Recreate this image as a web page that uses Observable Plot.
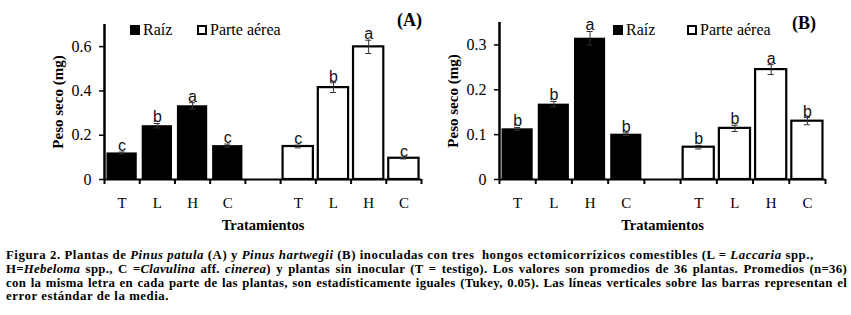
<!DOCTYPE html>
<html>
<head>
<meta charset="utf-8">
<script src="https://cdn.jsdelivr.net/npm/d3@7"></script>
<script src="https://cdn.jsdelivr.net/npm/@observablehq/plot@0.6"></script>
<style>
  html, body { margin: 0; padding: 0; background: #fff; color: #000; }
  #wrap { position: relative; width: 851px; height: 315px; overflow: hidden; }
  .panel { position: absolute; top: 0; }
  .legend { position: absolute; font-family: "Liberation Serif", serif; font-size: 16px; line-height: 16px; white-space: nowrap; }
  .sw { display: inline-block; width: 10px; height: 10px; box-sizing: border-box; vertical-align: 0px; margin-right: 3px; }
  .sw.fill { background: #000; }
  .sw.open { background: #fff; border: 2px solid #000; }
  .tag { position: absolute; font-family: "Liberation Serif", serif; font-weight: bold; font-size: 18px; line-height: 18px; }
  #caption { position: absolute; left: 6px; top: 249px; width: 841px; font-family: "Liberation Serif", serif; font-weight: bold; font-size: 12.8px; letter-spacing: 0.55px; line-height: 13.8px; }
  #caption div { white-space: pre; }
  #caption div.j { white-space: normal; text-align: justify; text-align-last: justify; letter-spacing: 0.3px; }
</style>
</head>
<body>
<div id="wrap">
  <div id="pA" class="panel" style="left:0px"></div>
  <div id="pB" class="panel" style="left:430px"></div>
  <div class="legend" style="left:130px; top:22px"><span class="sw fill"></span>Raíz</div>
  <div class="legend" style="left:197px; top:22px"><span class="sw open"></span>Parte aérea</div>
  <div class="tag" style="left:397px; top:11px">(A)</div>
  <div class="legend" style="left:613px; top:22px"><span class="sw fill"></span>Raíz</div>
  <div class="legend" style="left:687px; top:22px"><span class="sw open"></span>Parte aérea</div>
  <div class="tag" style="left:792px; top:14px">(B)</div>
  <div id="caption">
    <div>Figura 2. Plantas de <i>Pinus patula</i> (A) y <i>Pinus hartwegii</i> (B) inoculadas con tres  hongos ectomicorrízicos comestibles (L = <i>Laccaria</i> spp.,</div>
    <div class="j">H=<i>Hebeloma</i> spp., C =<i>Clavulina</i> aff. <i>cinerea</i>) y plantas sin inocular (T = testigo). Los valores son promedios de 36 plantas. Promedios (n=36)</div>
    <div class="j">con la misma letra en cada parte de las plantas, son estadísticamente iguales (Tukey, 0.05). Las líneas verticales sobre las barras representan el</div>
    <div>error estándar de la media.</div>
  </div>
</div>
<script>
// ---- data ----
const treatments = ["T", "L", "H", "C"];
const xLabels = ["T", "L", "H", "C", "", "T", "L", "H", "C"];

// Panel A: Pinus patula
const raizA = [0.120, 0.243, 0.333, 0.153];
const raizA_se = [0.004, 0.010, 0.014, 0.007];
const raizA_letters = ["c", "b", "a", "c"];
const aereaA = [0.149, 0.415, 0.599, 0.096];
const aereaA_se = [0.006, 0.022, 0.030, 0.003];
const aereaA_letters = ["c", "b", "a", "c"];
const yTicksA = [0, 0.2, 0.4, 0.6];

// Panel B: Pinus hartwegii
const raizB = [0.113, 0.168, 0.315, 0.101];
const raizB_se = [0.003, 0.006, 0.015, 0.003];
const raizB_letters = ["b", "b", "a", "b"];
const aereaB = [0.072, 0.114, 0.245, 0.130];
const aereaB_se = [0.004, 0.007, 0.011, 0.008];
const aereaB_letters = ["b", "b", "a", "b"];
const yTicksB = [0, 0.1, 0.2, 0.3];

const yLabel = "Peso seco (mg)";
const xLabel = "Tratamientos";

function rows(values, se, letters, offset) {
  return values.map((v, k) => ({ i: k + offset, t: treatments[k], v, se: se[k], letter: letters[k] }));
}

function panel({raiz, raizSe, raizL, aerea, aereaSe, aereaL, ticks, ymax, width, marginLeft, marginRight, marginTop}) {
  const R = rows(raiz, raizSe, raizL, 0);
  const P = rows(aerea, aereaSe, aereaL, 5);
  const all = R.concat(P);
  const caps = all.flatMap(d => [{i: d.i, y: d.v - d.se}, {i: d.i, y: d.v + d.se}]);
  const inset = 0.07;
  return Plot.plot({
    width, height: 236,
    marginLeft, marginRight, marginTop, marginBottom: 57,
    style: { background: "transparent", color: "#000", overflow: "visible" },
    x: { domain: [0, 9], axis: null },
    y: { domain: [0, ymax], axis: null },
    marks: [
      Plot.rect(R, { x1: d => d.i + inset, x2: d => d.i + 1 - inset, y1: 0, y2: "v", fill: "#000" }),
      Plot.rect(P, { x1: d => d.i + inset, x2: d => d.i + 1 - inset, y1: 0, y2: "v", fill: "#fff", stroke: "#000", strokeWidth: 2.2 }),
      Plot.ruleX(all, { x: d => d.i + 0.5, y1: d => d.v - d.se, y2: d => d.v + d.se, stroke: "#333", strokeWidth: 1 }),
      Plot.ruleY(caps, { y: "y", x1: d => d.i + 0.5 - 0.085, x2: d => d.i + 0.5 + 0.085, stroke: "#333", strokeWidth: 1 }),
      Plot.text(all, { x: d => d.i + 0.5, y: d => d.v + d.se, text: "letter", lineAnchor: "bottom", dy: -1, fontSize: 16, fontFamily: "Liberation Sans, Arial, sans-serif", fill: "#111" }),
      Plot.axisY({ ticks, tickSize: 5, tickPadding: 8, strokeWidth: 1.5, fontSize: 16, fontFamily: "Liberation Serif, serif", label: null, tickFormat: d3.format("") }),
      Plot.axisX({ ticks: d3.range(10), tickSize: 5, strokeWidth: 2, tickFormat: () => "", label: null }),
      Plot.axisX({ ticks: d3.range(9).map(k => k + 0.5), tickSize: 0, tickPadding: 18, fontSize: 15, fontFamily: "Liberation Serif, serif", tickFormat: d => xLabels[Math.floor(d)], label: null }),
      Plot.ruleX([0], { stroke: "#000", strokeWidth: 2.5 }),
      Plot.ruleY([0], { stroke: "#000", strokeWidth: 2 }),
      Plot.text([xLabel], { text: d => d, frameAnchor: "bottom", dy: 46, lineAnchor: "middle", fontSize: 14.5, fontWeight: "bold", fontFamily: "Liberation Serif, serif" }),
      Plot.text([yLabel], { text: d => d, frameAnchor: "left", textAnchor: "middle", rotate: -90, dx: -46, lineAnchor: "middle", fontSize: 15, fontWeight: "bold", fontFamily: "Liberation Serif, serif" })
    ]
  });
}

document.getElementById("pA").append(panel({
  raiz: raizA, raizSe: raizA_se, raizL: raizA_letters,
  aerea: aereaA, aereaSe: aereaA_se, aereaL: aereaA_letters,
  ticks: yTicksA, ymax: 0.7, width: 430, marginLeft: 104, marginRight: 9, marginTop: 24
}));
document.getElementById("pB").append(panel({
  raiz: raizB, raizSe: raizB_se, raizL: raizB_letters,
  aerea: aereaB, aereaSe: aereaB_se, aereaL: aereaB_letters,
  ticks: yTicksB, ymax: 0.35, width: 421, marginLeft: 69, marginRight: 26, marginTop: 22
}));
</script>
</body>
</html>
